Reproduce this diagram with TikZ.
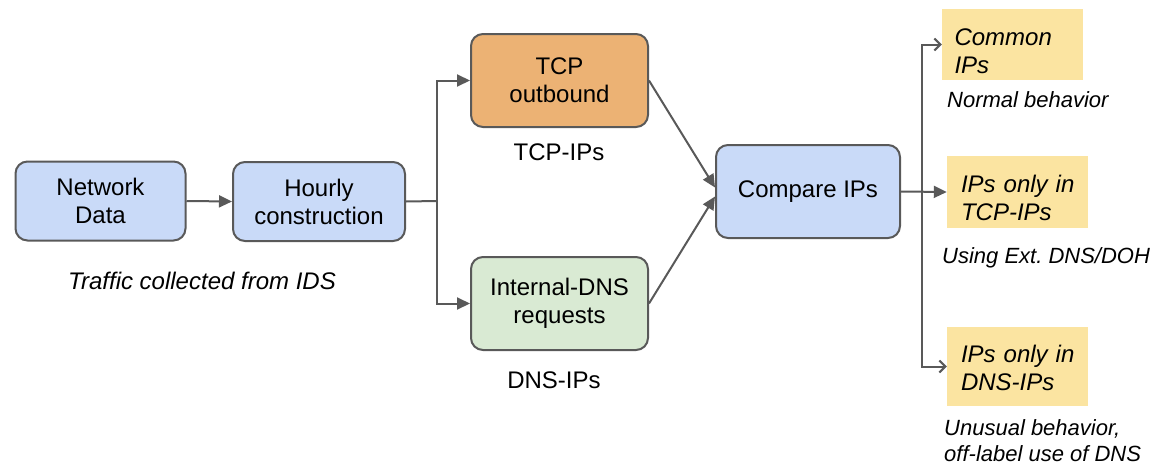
\documentclass[tikz,border=0pt]{standalone}
\usepackage{fontspec}
\setmainfont{Liberation Sans}
\usetikzlibrary{arrows.meta,calc}
\definecolor{strk}{HTML}{595959}
\definecolor{bluef}{HTML}{C9DAF8}
\definecolor{orangef}{HTML}{ECB274}
\definecolor{greenf}{HTML}{D9EAD3}
\definecolor{yellowf}{HTML}{FBE4A1}
\frenchspacing
\tikzset{
  base/.style={font=\fontsize{24}{28}\selectfont},
  rbox/.style={base, draw=strk, line width=2pt, rounded corners=12pt, align=center, inner sep=0pt},
  ybox/.style={fill=yellowf, align=left, inner sep=0pt, text width=128pt, minimum width=141pt,
    font=\fontsize{24}{28}\selectfont\itshape, execute at begin node={\leftskip=7.5pt}},
  lbl/.style={font=\fontsize{22}{26}\selectfont\itshape, inner sep=0pt, align=left},
  tlbl/.style={base, inner sep=0pt},
  conn/.style={draw=strk, line width=2pt},
  arr/.style={conn, -{Triangle[length=13pt,width=12pt]}},
  barb/.style={conn, -{Straight Barb[length=6pt,width=12pt,line width=2pt]}}
}
\begin{document}
\begin{tikzpicture}[x=1pt,y=-1pt]
\useasboundingbox (0,0) rectangle (1157,466);
% main boxes
\node[rbox, fill=bluef, minimum width=170pt, minimum height=79pt] (net) at (100.5,201) {Network\\Data};
\node[rbox, fill=bluef, minimum width=172pt, minimum height=79pt] (hour) at (319,201.5) {Hourly\\construction};
\node[rbox, fill=orangef, minimum width=177pt, minimum height=93pt] (tcp) at (559.5,80.5) {TCP\\outbound};
\node[rbox, fill=greenf, minimum width=177pt, minimum height=93pt] (dns) at (559.5,303.5) {Internal-DNS\\requests};
\node[rbox, fill=bluef, minimum width=184pt, minimum height=93pt] (cmp) at (808,191.5) {Compare IPs};
% result boxes
\node[ybox, minimum height=71pt, execute at begin node={\leftskip=6pt}] (common) at (1012.5,44.5) {\rule{0pt}{31pt}Common\\IPs};
\node[ybox, minimum height=72pt] (onlytcp) at (1017.5,192) {\rule{0pt}{29pt}IPs only in\\TCP-IPs};
\node[ybox, minimum height=79pt] (onlydns) at (1017.5,366.5) {\rule{0pt}{21pt}IPs only in\\DNS-IPs};
% labels
\node[lbl, font=\fontsize{24}{28}\selectfont\itshape] (traffic) at (202,281) {Traffic collected from IDS};
\node[tlbl] (tcpips) at (559,152) {TCP-IPs};
\node[tlbl] (dnsips) at (554,380) {DNS-IPs};
\node[lbl, anchor=west] (normal) at (947,100) {Normal behavior};
\node[lbl, anchor=west] (usingext) at (942,258) {Using Ext. DNS/DOH};
\node[lbl, anchor=north west] (unusual) at (944,419) {Unusual behavior,\\off-label use of DNS};
% connectors
\coordinate (s1) at (437,201);
\coordinate (s2) at (922,192);
\draw[arr] (net.east) -- (hour.west);
\draw[conn] (hour.east) -- (s1);
\draw[arr] (s1) |- (tcp.west);
\draw[arr] (s1) |- (dns.west);
\draw[arr] (tcp.east) -- ($(cmp.west)+(0,-4)$);
\draw[arr] (dns.east) -- ($(cmp.west)+(0,5)$);
\draw[arr] (cmp.east) -- (onlytcp.west);
\draw[barb] (s2) |- (common.west);
\draw[barb] (s2) |- (onlydns.west);
\end{tikzpicture}
\end{document}
